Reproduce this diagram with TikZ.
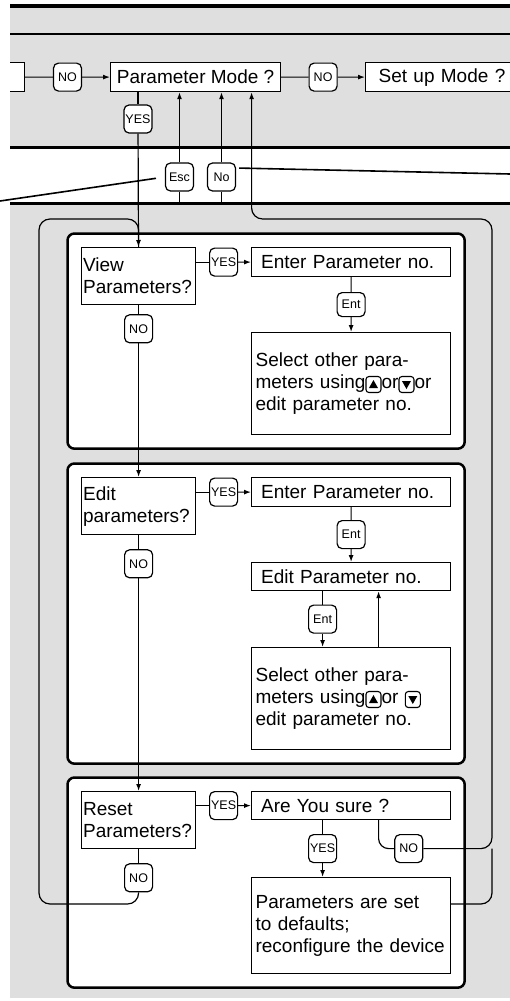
\documentclass[tikz,border=0pt]{standalone}
\usepackage{fontspec}
\setmainfont{Liberation Sans}
\usetikzlibrary{arrows.meta,backgrounds,calc,fit,positioning}
\newcommand{\boxfont}{\fontsize{19}{22}\selectfont}
\newcommand{\keyfont}{\fontsize{12.5}{14}\selectfont}
\newcommand{\upkey}{\tikz[baseline=4pt, x=1pt, y=1pt]{%
    \draw[line width=1.1pt, rounded corners=3pt] (0,0) rectangle (15,16);
    \fill (7.5,12.5) -- (3,4.5) -- (12,4.5) -- cycle;}}
\newcommand{\downkey}{\tikz[baseline=4pt, x=1pt, y=1pt]{%
    \draw[line width=1.1pt, rounded corners=3pt] (0,0) rectangle (15,16);
    \fill (7.5,3.5) -- (3,11.5) -- (12,11.5) -- cycle;}}
\tikzset{
    menu chart/.style = {x=1pt, y=-1pt, >={Latex[length=7pt, width=5pt]}},
    line/.style       = {line width=1.2pt},
    leader/.style     = {line width=1.6pt},
    bandline/.style   = {line width=3pt},
    mbox/.style       = {draw, line width=1.2pt, fill=white, font=\boxfont,
                         inner sep=0pt, minimum height=29pt, anchor=north west},
    qbox/.style       = {mbox, align=left, text width=111pt, inner xsep=1.5pt,
                         minimum height=57pt},
    wbox/.style       = {mbox, align=left, text width=180pt, inner xsep=9.5pt},
    tbox/.style       = {wbox, text width=191pt, inner xsep=4pt},
    btn/.style        = {draw, line width=1.2pt, fill=white, rounded corners=5pt,
                         font=\keyfont, inner sep=1pt,
                         minimum width=28pt, minimum height=28pt},
    panel/.style      = {draw, line width=2.5pt, fill=white, rounded corners=7pt,
                         inner sep=13.5pt}
}
\begin{document}
\begin{tikzpicture}[menu chart]
\useasboundingbox (0,0) rectangle (510,1001);

% Display background
\begin{scope}[on background layer]
    \fill[gray!25] (10,6) rectangle (510,998);
    \fill[white] (10,147) rectangle (510,203);
\end{scope}
\draw[line width=4pt] (10,6) -- (510,6);
\draw[line width=2pt] (10,34) -- (510,34);
\draw[bandline] (10,147) -- (510,147);
\draw[bandline] (10,203) -- (510,203);
\coordinate (bandfoot) at (0,203);
\coordinate (escend) at (0,201);
\coordinate (noend) at (510,174);

% Mode row
\begin{scope}
    \clip (10,0) rectangle (510,147);
    \node[mbox, minimum width=80pt, anchor=north east] (prevmode) at (25,62) {};
    \node[mbox, minimum width=170pt] (parammode) at (110,62) {Parameter Mode ?};
    \node[mbox, align=left, text width=160pt, inner xsep=13pt] (setupmode)
        at (365,62) {Set up Mode ?};
\end{scope}
\node[btn] (rowno1) at ($(prevmode.east)!0.5!(parammode.west)$) {NO};
\node[btn] (rowno2) at ($(parammode.east)!0.5!(setupmode.west)$) {NO};
\draw[line] (prevmode) -- (rowno1);
\draw[line, ->] (rowno1) -- (parammode);
\draw[line] (parammode) -- (rowno2);
\draw[line, ->] (rowno2) -- (setupmode);

\node[btn] (modeyes) at (138,119) {YES};
\node[btn] (esc) at (179.5,177) {Esc};
\node[btn] (nokey) at (221.5,177) {No};

% View parameters
\node[qbox] (viewq) at (81,247) {View\\Parameters?};
\node[wbox] (viewenter) at (251,247) {Enter Parameter no.};
\node[tbox, minimum height=102pt] (viewsel) at (251,332)
    {Select other para-\\meters using\upkey or\downkey or\\edit parameter no.};
\node[btn] (viewyes) at ($(viewq.east |- viewenter.west)!0.5!(viewenter.west)$) {YES};
\node[btn, minimum height=24pt] (viewent) at ($(viewenter.south)!0.5!(viewsel.north)$) {Ent};
\node[btn, below=9pt of viewq] (viewno) {NO};
\draw[line] (viewq.east |- viewyes) -- (viewyes);
\draw[line, ->] (viewyes) -- (viewenter);
\draw[line] (viewenter) -- (viewent);
\draw[line, ->] (viewent) -- (viewsel);
\draw[line] (viewq) -- (viewno);

% Edit parameters
\node[qbox] (editq) at (81,477) {Edit\\parameters?};
\node[wbox] (editenter) at (251,477) {Enter Parameter no.};
\node[wbox, minimum height=28pt] (editpar) at (251,562) {Edit Parameter no.};
\node[tbox, minimum height=102pt] (editsel) at (251,647)
    {Select other para-\\meters using\upkey or \downkey\\edit parameter no.};
\node[btn] (edityes) at ($(editq.east |- editenter.west)!0.5!(editenter.west)$) {YES};
\node[btn] (editent1) at ($(editenter.south)!0.5!(editpar.north)$) {Ent};
\node[btn] (editent2) at ($(editpar.south)!0.5!(editsel.north)+(-28.5,0)$) {Ent};
\node[btn, below=14pt of editq] (editno) {NO};
\draw[line, ->] (viewno) -- (editq);
\draw[line] (editq.east |- edityes) -- (edityes);
\draw[line, ->] (edityes) -- (editenter);
\draw[line] (editenter) -- (editent1);
\draw[line, ->] (editent1) -- (editpar);
\draw[line] (editpar.south -| editent2) -- (editent2);
\draw[line, ->] (editent2) -- (editsel.north -| editent2);
\draw[line, ->] ($(editsel.north)+(27.5,0)$) -- ($(editpar.south)+(27.5,0)$);
\draw[line] (editq) -- (editno);

% Reset parameters
\node[qbox] (resetq) at (81,791) {Reset\\Parameters?};
\node[wbox, minimum height=28pt] (sure) at (251,791) {Are You sure ?};
\node[tbox, minimum height=96pt] (setdef) at (251,877)
    {Parameters are set\\to defaults;\\reconfigure the device};
\node[btn] (resetyes) at ($(resetq.east |- sure.west)!0.5!(sure.west)$) {YES};
\node[btn] (sureyes) at ($(sure.south)!0.5!(setdef.north)+(-28.5,0)$) {YES};
\node[btn, right=57pt of sureyes] (sureno) {NO};
\node[btn, below=14pt of resetq] (resetno) {NO};
\draw[line, ->] (editno) -- (resetq);
\draw[line] (resetq.east |- resetyes) -- (resetyes);
\draw[line, ->] (resetyes) -- (sure);
\draw[line] (sure.south -| sureyes) -- (sureyes);
\draw[line, ->] (sureyes) -- (setdef.north -| sureyes);
\draw[line, rounded corners=10pt] ($(sure.south)+(27.5,0)$) |- (sureno);
\draw[line] (resetq) -- (resetno);

% Entry from mode row and return loops
\coordinate (lbot) at (39,904);
\coordinate (rtop) at (492,219);
\draw[line] (parammode.south -| modeyes) -- (modeyes);
\draw[line, ->] (modeyes) -- (viewq);
\draw[line, ->] (esc) -- (esc |- parammode.south);
\draw[line, ->] (nokey) -- (nokey |- parammode.south);
\draw[line] (esc.south) -- (esc |- bandfoot);
\draw[line] (nokey.south) -- (nokey |- bandfoot);
\draw[leader, shorten <=9pt] (esc.west) -- (escend);
\draw[leader, shorten <=3pt] ([yshift=9pt]nokey.east) -- (noend);
\draw[line, rounded corners=11pt] (resetno.south) |- (lbot) -- (lbot |- rtop)
    -| (viewq.north);
\draw[line, ->, rounded corners=11pt] (sureno) -| (rtop)
    -| ($(parammode.south)+(56,0)$);
\draw[line, rounded corners=11pt] (setdef.east |- lbot) -| (rtop |- sureno);

% Menu panels
\begin{scope}[on background layer]
    \node[panel, fit=(viewq)(viewenter)(viewsel)] (viewpanel) {};
    \node[panel, fit=(editq)(editenter)(editsel)] (editpanel) {};
    \node[panel, fit=(resetq)(sure)(setdef)] (resetpanel) {};
\end{scope}

\end{tikzpicture}
\end{document}
